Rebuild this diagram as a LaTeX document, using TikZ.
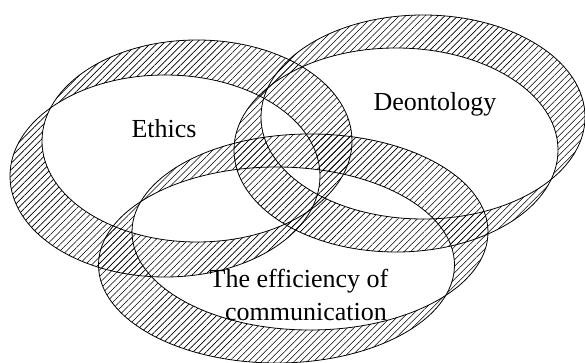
\documentclass[tikz,border=0pt]{standalone}
\usepackage{fontspec}
\setmainfont{Liberation Serif}
\usetikzlibrary{patterns.meta}
\begin{document}
\begin{tikzpicture}[x=1pt,y=-1pt,
  hatch/.style={pattern={Lines[angle=45,distance=4.6pt,line width=0.6pt]}, even odd rule},
  rim/.style={draw=black,line width=0.8pt},
  lbl/.style={font=\fontsize{26}{33}\selectfont, anchor=base, inner sep=0pt}]
\useasboundingbox (0,0) rectangle (585,363);

% each ring = two equal ellipses, shifted; the band between them is hatched
% Ethics ring
\fill[hatch] (165,176) ellipse [x radius=155pt, y radius=101pt]
             (197,141) ellipse [x radius=155pt, y radius=101pt];
% Deontology ring
\fill[hatch] (396,150) ellipse [x radius=162pt, y radius=102pt]
             (423,117) ellipse [x radius=162pt, y radius=102pt];
% Efficiency ring
\fill[hatch] (276.5,265) ellipse [x radius=178pt, y radius=98pt]
             (310,232) ellipse [x radius=178pt, y radius=98pt];

% outlines
\draw[rim] (165,176) ellipse [x radius=155pt, y radius=101pt];
\draw[rim] (197,141) ellipse [x radius=155pt, y radius=101pt];
\draw[rim] (396,150) ellipse [x radius=162pt, y radius=102pt];
\draw[rim] (423,117) ellipse [x radius=162pt, y radius=102pt];
\draw[rim] (276.5,265) ellipse [x radius=178pt, y radius=98pt];
\draw[rim] (310,232) ellipse [x radius=178pt, y radius=98pt];

% labels
\node[lbl] (ethics) at (164,138) {Ethics};
\node[lbl] (deon) at (435,111) {Deontology};
\node[lbl] (eff1) at (299,287) {The efficiency of};
\node[lbl] (eff2) at (306,320) {communication};
\end{tikzpicture}
\end{document}
